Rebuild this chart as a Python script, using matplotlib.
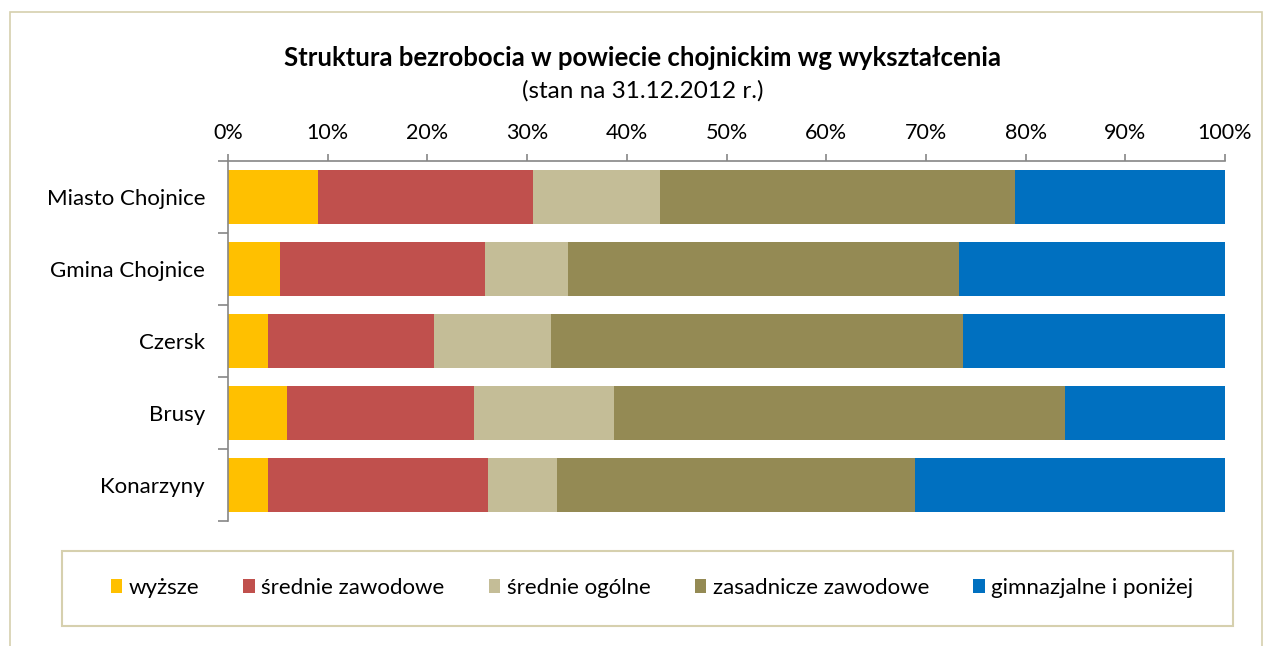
import matplotlib
matplotlib.use("Agg")
import matplotlib.pyplot as plt
from matplotlib.patches import Rectangle
from matplotlib.ticker import FixedLocator, PercentFormatter
import numpy as np

categories = ["Miasto Chojnice", "Gmina Chojnice", "Czersk", "Brusy", "Konarzyny"]
series_names = ["wyższe", "średnie zawodowe", "średnie ogólne", "zasadnicze zawodowe", "gimnazjalne i poniżej"]
wyzsze = [9.0, 5.2, 4.0, 5.9, 4.0]
srednie_zawodowe = [21.6, 20.6, 16.7, 18.8, 22.1]
srednie_ogolne = [12.7, 8.3, 11.7, 14.0, 6.9]
zasadnicze_zawodowe = [35.6, 39.2, 41.3, 45.3, 35.9]
gimnazjalne = [21.1, 26.7, 26.3, 16.0, 31.1]
colors = ["#FFC000", "#C0504D", "#C4BD97", "#948A54", "#0070C0"]
xticks = [0, 10, 20, 30, 40, 50, 60, 70, 80, 90, 100]

plt.rcParams['font.family'] = ['Lato', 'DejaVu Sans']

W, H = 1272, 646
fig = plt.figure(figsize=(W / 100, H / 100), dpi=100)

# outer chart border
fig.patches.append(Rectangle((10 / W, -0.05), (1262 - 10) / W, (H - 12) / H + 0.05,
                             transform=fig.transFigure, fill=False,
                             edgecolor="#D6D0AE", linewidth=1.2))

ax = fig.add_axes([228 / W, (H - 521) / H, (1225 - 228) / W, (521 - 161) / H])

data = [wyzsze, srednie_zawodowe, srednie_ogolne, zasadnicze_zawodowe, gimnazjalne]
y = np.arange(len(categories))
left = np.zeros(len(categories))
for name, vals, c in zip(series_names, data, colors):
    vals = np.array(vals, dtype=float)
    ax.barh(y, vals, left=left, height=0.76, color=c, label=name, linewidth=0)
    left += vals

ax.set_xlim(0, 100)
ax.set_ylim(len(categories) - 0.5, -0.5)
ax.xaxis.tick_top()
ax.set_xticks(xticks)
ax.xaxis.set_major_formatter(PercentFormatter(decimals=0))
ax.tick_params(axis='x', which='major', direction='out', length=5, width=1.2,
               color="#868686", labelsize=15.5, pad=8, labelcolor="black")

ax.set_yticks(y)
ax.set_yticklabels(categories)
ax.yaxis.set_minor_locator(FixedLocator(np.arange(-0.5, len(categories), 1.0)))
ax.tick_params(axis='y', which='major', length=0, labelsize=16, pad=16.5)
ax.tick_params(axis='y', which='minor', length=7, width=1.2, color="#868686")

for s in ["right", "bottom"]:
    ax.spines[s].set_visible(False)
for s in ["top", "left"]:
    ax.spines[s].set_color("#868686")
    ax.spines[s].set_linewidth(1.2)

fig.text(643 / W, 1 - 58 / H, "Struktura bezrobocia w powiecie chojnickim wg wykształcenia",
         ha="center", va="center", fontsize=18.5, fontweight="bold")
fig.text(643 / W, 1 - 91 / H, "(stan na 31.12.2012 r.)", ha="center", va="center", fontsize=17.5)

# legend box
fig.patches.append(Rectangle((62 / W, (H - 626) / H), (1233 - 62) / W, (626 - 551) / H,
                             transform=fig.transFigure, fill=False,
                             edgecolor="#D6D0AE", linewidth=1.5))
leg = fig.legend(loc="center", bbox_to_anchor=(652 / W, 1 - 588 / H), ncol=5, frameon=False,
                 fontsize=16, handlelength=0.5, handleheight=0.6, handletextpad=0.3,
                 columnspacing=2.0)

fig.savefig("out.png", dpi=100)
